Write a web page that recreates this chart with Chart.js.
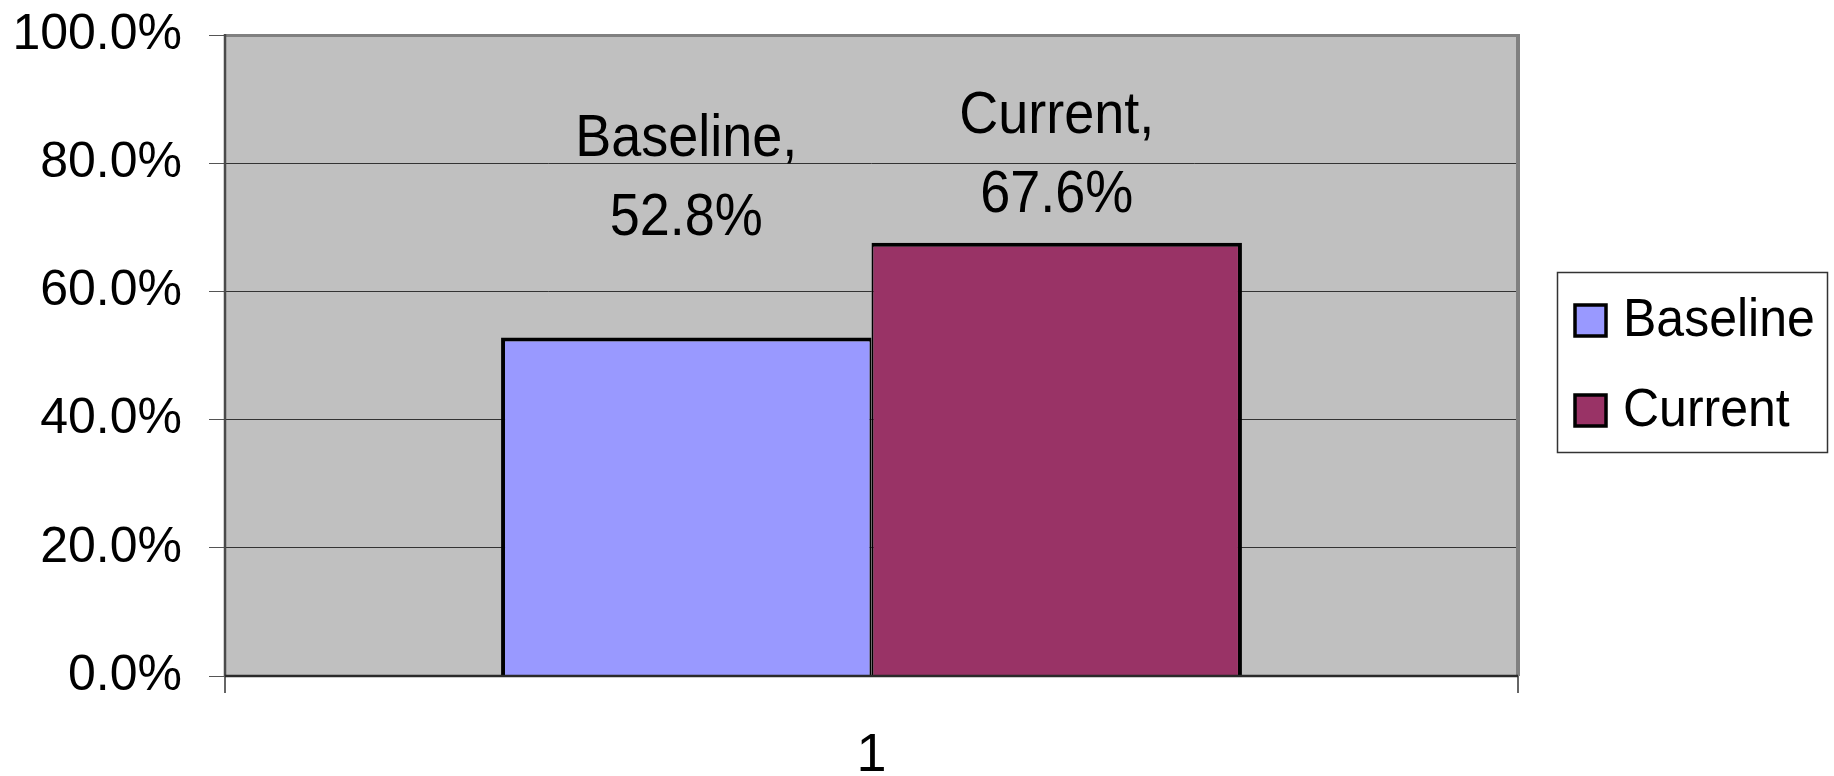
<!DOCTYPE html>
<html>
<head>
<meta charset="utf-8">
<script src="https://cdn.jsdelivr.net/npm/chart.js@4"></script>
<style>
  html, body { margin: 0; padding: 0; background: #ffffff; }
  #wrap { width: 1834px; height: 776px; }
</style>
</head>
<body>
<div id="wrap"><canvas id="c" width="1834" height="776"></canvas></div>
<script>
// Chart data
const categories = ['1'];
const seriesNames = ['Baseline', 'Current'];
const baselineValues = [0.528];
const currentValues = [0.676];
const yTickValues = [0, 0.2, 0.4, 0.6, 0.8, 1.0];

const FONT = "'Liberation Sans', Arial, Helvetica, sans-serif";
const fmtPct = v => (v * 100).toFixed(1) + '%';

// Text drawn slightly taller than wide, anchored at its baseline
function tallText(ctx, text, x, y, stretch) {
  ctx.save();
  ctx.translate(x, y);
  ctx.scale(1, stretch);
  ctx.fillText(text, 0, 0);
  ctx.restore();
}

// Grey plot-area fill behind gridlines and bars
const plotBackground = {
  id: 'plotBackground',
  beforeDraw(chart) {
    const { ctx, chartArea: a } = chart;
    ctx.save();
    ctx.fillStyle = '#C0C0C0';
    ctx.fillRect(a.left, a.top, a.right - a.left, a.bottom - a.top);
    ctx.restore();
  }
};

// Plot-area frame and axis lines, drawn over the bars' bases
const plotFrame = {
  id: 'plotFrame',
  afterDatasetsDraw(chart) {
    const { ctx, chartArea: a } = chart;
    ctx.save();
    ctx.strokeStyle = '#808080';
    ctx.lineWidth = 3;
    ctx.beginPath();
    ctx.moveTo(a.left, a.top + 0.5);
    ctx.lineTo(a.right + 2, a.top + 0.5);
    ctx.stroke();
    ctx.lineWidth = 4;
    ctx.beginPath();
    ctx.moveTo(a.right, a.top - 1);
    ctx.lineTo(a.right, a.bottom);
    ctx.stroke();
    ctx.strokeStyle = '#4a4a4a';
    ctx.lineWidth = 2.5;
    ctx.beginPath();
    ctx.moveTo(a.left, a.top - 1);
    ctx.lineTo(a.left, a.bottom);
    ctx.stroke();
    ctx.strokeStyle = '#2a2a2a';
    ctx.beginPath();
    ctx.moveTo(a.left, a.bottom);
    ctx.lineTo(a.right, a.bottom);
    ctx.stroke();
    ctx.restore();
  }
};

// Two-line captions ("Series," / value) above each bar
const barCaptions = {
  id: 'barCaptions',
  afterDatasetsDraw(chart, args, opts) {
    const ctx = chart.ctx;
    ctx.save();
    ctx.font = opts.font;
    ctx.fillStyle = opts.color;
    ctx.textAlign = 'center';
    ctx.textBaseline = 'alphabetic';
    chart.data.datasets.forEach((ds, i) => {
      const meta = chart.getDatasetMeta(i);
      meta.data.forEach((bar, j) => {
        const y2 = bar.y - ds.captionLift;
        tallText(ctx, ds.label + ',', bar.x, y2 - opts.lineGap, opts.stretch);
        tallText(ctx, fmtPct(ds.data[j]), bar.x, y2, opts.stretch);
      });
    });
    ctx.restore();
  }
};

// Boxed legend to the right of the plot area
const boxedLegend = {
  id: 'boxedLegend',
  afterDraw(chart, args, opts) {
    const { ctx, chartArea: a } = chart;
    const x0 = a.right + opts.gap;
    const y0 = opts.top;
    ctx.save();
    ctx.fillStyle = '#ffffff';
    ctx.fillRect(x0, y0, opts.width, opts.height);
    ctx.strokeStyle = '#333333';
    ctx.lineWidth = 1.5;
    ctx.strokeRect(x0 + 0.5, y0 + 0.5, opts.width, opts.height);
    ctx.font = opts.font;
    ctx.textAlign = 'left';
    ctx.textBaseline = 'alphabetic';
    chart.data.datasets.forEach((ds, i) => {
      const base = y0 + opts.firstBaseline + i * opts.rowGap;
      const s = opts.swatch;
      ctx.fillStyle = ds.backgroundColor;
      ctx.fillRect(x0 + opts.swatchX, base - s, s, s);
      ctx.strokeStyle = '#000000';
      ctx.lineWidth = 3.5;
      ctx.strokeRect(x0 + opts.swatchX, base - s, s, s);
      ctx.fillStyle = '#000000';
      tallText(ctx, ds.label, x0 + opts.textX, base, opts.stretch);
    });
    ctx.restore();
  }
};

new Chart(document.getElementById('c'), {
  type: 'bar',
  data: {
    labels: categories,
    datasets: [
      {
        label: seriesNames[0],
        data: baselineValues,
        backgroundColor: '#9999FF',
        borderColor: '#000000',
        borderWidth: { top: 4, left: 4, right: 2, bottom: 0 },
        captionLift: 103
      },
      {
        label: seriesNames[1],
        data: currentValues,
        backgroundColor: '#993366',
        borderColor: '#000000',
        borderWidth: { top: 4, left: 2, right: 4, bottom: 0 },
        captionLift: 31
      }
    ]
  },
  options: {
    responsive: false,
    animation: false,
    devicePixelRatio: 1,
    categoryPercentage: 0.573,
    barPercentage: 1.0,
    layout: { padding: { top: 35, right: 316, bottom: 0, left: 0 } },
    plugins: {
      legend: { display: false },
      tooltip: { enabled: false },
      barCaptions: { font: '54px ' + FONT, color: '#000000', lineGap: 79, stretch: 1.08 },
      boxedLegend: {
        font: '50px ' + FONT,
        stretch: 1.08,
        gap: 39, top: 272, width: 270, height: 180,
        swatchX: 18, swatch: 31, textX: 66,
        firstBaseline: 64, rowGap: 90
      }
    },
    scales: {
      x: {
        type: 'category',
        offset: true,
        border: { display: false },
        grid: {
          display: true,
          offset: true,
          drawOnChartArea: false,
          drawTicks: true,
          tickLength: 17,
          tickColor: '#666666',
          lineWidth: 2
        },
        ticks: {
          font: { family: FONT, size: 54 },
          color: '#000000',
          padding: 31,
          maxRotation: 0
        },
        afterFit(scale) {
          scale.height = 100;
          scale.paddingLeft = 0;
          scale.paddingRight = 0;
        }
      },
      y: {
        min: 0,
        max: 1,
        border: { display: false },
        afterBuildTicks(scale) { scale.ticks = yTickValues.map(v => ({ value: v })); },
        grid: {
          color: '#333333',
          lineWidth: 1,
          drawTicks: true,
          tickLength: 16,
          tickColor: '#555555'
        },
        ticks: {
          font: { family: FONT, size: 50 },
          color: '#000000',
          padding: 27,
          callback: v => fmtPct(v)
        },
        afterFit(scale) {
          scale.width = 225;
          scale.paddingTop = 0;
          scale.paddingBottom = 0;
        }
      }
    }
  },
  plugins: [plotBackground, plotFrame, barCaptions, boxedLegend]
});
</script>
</body>
</html>
